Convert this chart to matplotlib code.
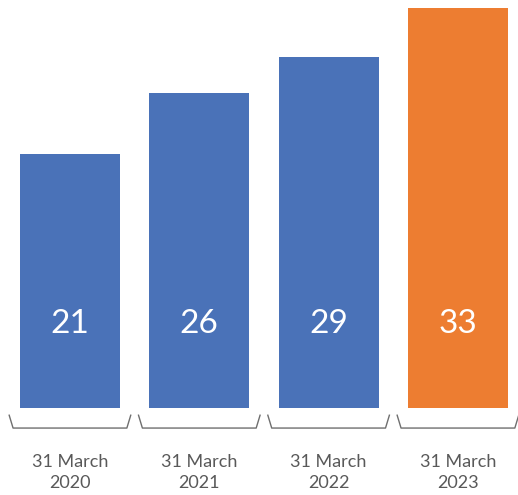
import matplotlib
matplotlib.use("Agg")
import matplotlib.pyplot as plt
import matplotlib.transforms as mtransforms

# datos del gráfico
fechas = ['31 March\n2020', '31 March\n2021', '31 March\n2022', '31 March\n2023']
valores = [21, 26, 29, 33]
colores = ['#4a72b8', '#4a72b8', '#4a72b8', '#ed7d31']

plt.rcParams['font.family'] = ['Lato', 'DejaVu Sans']

fig = plt.figure(figsize=(5.18, 4.95), dpi=100)
ax = fig.add_axes([5.3 / 518, 87 / 495, 517.3 / 518, 401 / 495])

x = range(len(valores))
ax.bar(x, valores, width=0.773, color=colores)
ax.set_xlim(-0.5, 3.5)
ax.set_ylim(0, 33.1)

# números dentro de las barras
for i, v in zip(x, valores):
    ax.text(i, 6.9, str(v), color='white', fontsize=24,
            ha='center', va='center')

# corchetes del eje x y etiquetas
trans = mtransforms.blended_transform_factory(ax.transData, ax.transAxes)
for i, etiqueta in zip(x, fechas):
    x0, x1 = i - 0.47, i + 0.47
    s = 0.03
    ax.plot([x0, x0 + s, x1 - s, x1], [-0.018, -0.05, -0.05, -0.018],
            color='#6f6f6f', lw=1, transform=trans, clip_on=False)
    ax.text(i, -0.16, etiqueta, color='#595959', fontsize=13,
            ha='center', va='center', linespacing=1.4, transform=trans)

ax.axis('off')
fig.savefig('out.png', dpi=100)
